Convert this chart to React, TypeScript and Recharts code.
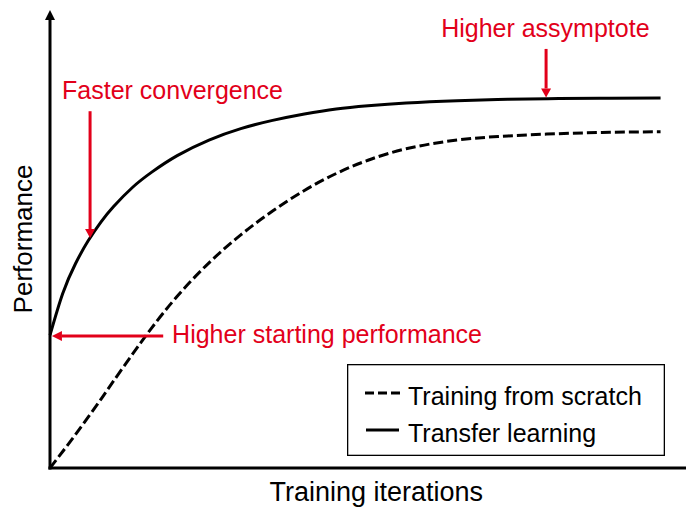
import React from 'react'
import { LineChart, Line, XAxis, YAxis, ReferenceLine, ReferenceDot, Legend } from 'recharts'

// values (arbitrary units, 0-100 on both axes)
const iterations = [0, 2, 4, 6, 8, 10, 13, 16, 20, 25, 30, 35, 40, 45, 50, 56, 64, 72, 80, 88, 96]
const transferLearning = [29.0, 38.1, 44.6, 49.6, 53.7, 57.1, 61.3, 64.6, 68.2, 71.6, 74.1, 75.9, 77.3, 78.4, 79.1, 79.7, 80.2, 80.5, 80.65, 80.75, 80.8]
const fromScratch = [0, 3.6, 7.3, 11.1, 15.0, 19.0, 24.9, 30.6, 37.5, 44.8, 50.9, 56.1, 60.6, 64.3, 67.2, 69.7, 71.6, 72.5, 73.0, 73.3, 73.4]

const seriesNames = ['Training from scratch', 'Transfer learning']
const axisTitles = { x: 'Training iterations', y: 'Performance' }
const annotationTexts = ['Faster convergence', 'Higher assymptote', 'Higher starting performance']

const data = iterations.map((it, i) => ({
  it,
  scratch: fromScratch[i],
  transfer: transferLearning[i],
}))

const FONT = "'Liberation Sans', Arial, sans-serif"
const RED = '#e2001a'

const arrow = (color: string, width: number, headLen: number, headW: number) => (p: any) => {
  const { x1, y1, x2, y2 } = p
  const ang = Math.atan2(y2 - y1, x2 - x1)
  const bx = x2 - headLen * Math.cos(ang)
  const by = y2 - headLen * Math.sin(ang)
  const nx = -Math.sin(ang) * headW / 2
  const ny = Math.cos(ang) * headW / 2
  return (
    <g>
      <line x1={x1} y1={y1} x2={bx} y2={by} stroke={color} strokeWidth={width} />
      <polygon points={`${x2},${y2} ${bx + nx},${by + ny} ${bx - nx},${by - ny}`} fill={color} />
    </g>
  )
}

const textAt = (value: string, color: string, anchor: 'start' | 'middle' = 'start', size = 25, rotate = false) => (p: any) => (
  <text
    x={p.cx}
    y={p.cy}
    fill={color}
    fontSize={size}
    fontFamily={FONT}
    textAnchor={anchor}
    transform={rotate ? `rotate(-90, ${p.cx}, ${p.cy})` : undefined}
  >
    {value}
  </text>
)

function LegendBox() {
  return (
    <svg width={318} height={92} style={{ display: 'block' }}>
      <rect x={0.65} y={0.65} width={316.7} height={90.7} fill="#fff" stroke="#000" strokeWidth={1.3} />
      <line x1={18} y1={29} x2={53} y2={29} stroke="#000" strokeWidth={3} strokeDasharray="9 4" />
      <text x={61} y={41} fontSize={25} fontFamily={FONT} fill="#000">{seriesNames[0]}</text>
      <line x1={19} y1={66} x2={52} y2={66} stroke="#000" strokeWidth={3} />
      <text x={61} y={78} fontSize={25} fontFamily={FONT} fill="#000">{seriesNames[1]}</text>
    </svg>
  )
}

export default function App() {
  return (
    <div style={{ position: 'absolute', left: 0, top: 0, background: '#fff' }}>
      <LineChart width={686} height={509} data={data} margin={{ top: 10, right: 0, left: 50, bottom: 41 }}>
        <XAxis dataKey="it" type="number" domain={[0, 100]} hide />
        <YAxis type="number" domain={[0, 100]} hide />

        {/* axes */}
        <ReferenceLine
          ifOverflow="visible"
          segment={[{ x: 0, y: -0.35 }, { x: 0, y: 100 }]}
          shape={arrow('#000', 3, 10, 10)}
        />
        <ReferenceLine ifOverflow="visible" segment={[{ x: -0.25, y: 0 }, { x: 100, y: 0 }]} stroke="#000" strokeWidth={3} />

        <Line dataKey="scratch" name={seriesNames[0]} type="natural" stroke="#000" strokeWidth={3} strokeDasharray="10 4" dot={false} isAnimationActive={false} />
        <Line dataKey="transfer" name={seriesNames[1]} type="natural" stroke="#000" strokeWidth={3} dot={false} isAnimationActive={false} />

        {/* annotation arrows */}
        <ReferenceLine ifOverflow="visible" segment={[{ x: 6.3, y: 77.9 }, { x: 6.3, y: 50.2 }]} shape={arrow(RED, 3, 9, 10)} />
        <ReferenceLine ifOverflow="visible" segment={[{ x: 78, y: 91.5 }, { x: 78, y: 80.9 }]} shape={arrow(RED, 3, 9, 10)} />
        <ReferenceLine ifOverflow="visible" segment={[{ x: 17.8, y: 28.8 }, { x: 0.3, y: 28.8 }]} shape={arrow(RED, 3, 10, 10)} />

        <ReferenceDot ifOverflow="visible" x={1.9} y={80.6} r={0} shape={textAt(annotationTexts[0], RED)} />
        <ReferenceDot ifOverflow="visible" x={61.5} y={94.1} r={0} shape={textAt(annotationTexts[1], RED)} />
        <ReferenceDot ifOverflow="visible" x={19.2} y={27.3} r={0} shape={textAt(annotationTexts[2], RED)} />

        {/* axis titles */}
        <ReferenceDot ifOverflow="visible" x={51.3} y={-7.3} r={0} shape={textAt(axisTitles.x, '#000', 'middle', 27)} />
        <ReferenceDot ifOverflow="visible" x={-2.85} y={50} r={0} shape={textAt(axisTitles.y, '#000', 'middle', 26, true)} />

        <Legend
          layout="horizontal"
          verticalAlign="middle"
          align="center"
          content={() => <LegendBox />}
          wrapperStyle={{ left: 347, top: 364, width: 318, height: 92 }}
        />
      </LineChart>
    </div>
  )
}
